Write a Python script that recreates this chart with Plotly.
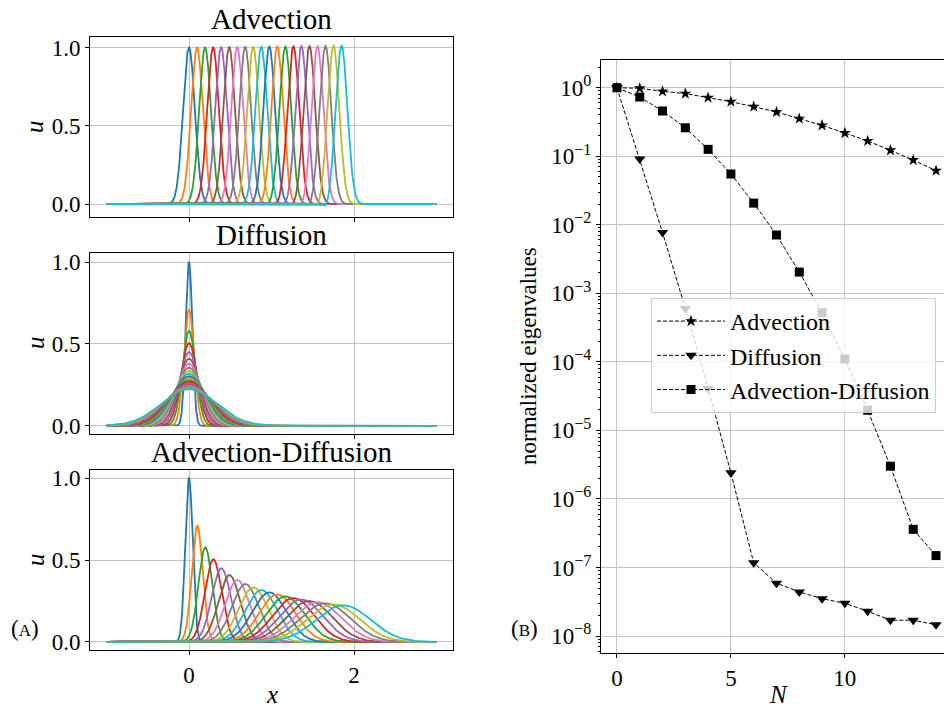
import numpy as np
import plotly.graph_objects as go

# ---------------- data: left panels ----------------
x_min, x_max = -1.0, 3.0
tab10 = ['#1f77b4', '#ff7f0e', '#2ca02c', '#d62728', '#9467bd',
         '#8c564b', '#e377c2', '#7f7f7f', '#bcbd22', '#17becf']

adv_centers = [0.000, 0.097, 0.195, 0.292, 0.389, 0.487, 0.584, 0.681, 0.778, 0.876,
               0.973, 1.070, 1.168, 1.265, 1.362, 1.460, 1.557, 1.654, 1.751, 1.849]
adv_peaks = [1.000, 1.000, 1.001, 1.001, 1.002, 1.003, 1.003, 1.004, 1.005, 1.005,
             1.006, 1.007, 1.007, 1.008, 1.009, 1.009, 1.010, 1.011, 1.011, 1.012]
adv_widths = [0.071, 0.071, 0.071, 0.071, 0.071, 0.071, 0.071, 0.071, 0.071, 0.071,
              0.071, 0.071, 0.071, 0.071, 0.071, 0.071, 0.071, 0.071, 0.071, 0.071]
adv_dips = [0.0, 0.0, 0.0, 0.0, 0.0, 0.0, 0.0, 0.0, 0.0, 0.001,
            0.003, 0.005, 0.007, 0.009, 0.011, 0.014, 0.017, 0.021, 0.026, 0.034]

dif_centers = [0.0] * 20
dif_peaks = [1.000, 0.710, 0.580, 0.505, 0.450, 0.410, 0.380, 0.355, 0.335, 0.318,
             0.303, 0.290, 0.278, 0.268, 0.259, 0.250, 0.243, 0.236, 0.229, 0.224]
dif_widths = [0.040, 0.062, 0.081, 0.098, 0.114, 0.130, 0.146, 0.161, 0.176, 0.191,
              0.206, 0.220, 0.234, 0.248, 0.262, 0.276, 0.290, 0.304, 0.318, 0.332]

ad_centers = [0.000, 0.100, 0.198, 0.295, 0.392, 0.489, 0.586, 0.683, 0.780, 0.877,
              0.974, 1.071, 1.168, 1.265, 1.362, 1.459, 1.556, 1.653, 1.750, 1.870]
ad_peaks = [1.000, 0.710, 0.577, 0.504, 0.449, 0.408, 0.378, 0.354, 0.333, 0.317,
            0.303, 0.290, 0.278, 0.268, 0.259, 0.250, 0.243, 0.236, 0.229, 0.224]
ad_widths = [0.045, 0.066, 0.084, 0.101, 0.117, 0.133, 0.148, 0.163, 0.178, 0.193,
             0.207, 0.221, 0.235, 0.249, 0.263, 0.277, 0.290, 0.303, 0.316, 0.329]

# ---------------- data: right panel ----------------
N_vals = list(range(15))
eig_advection = [1.0, 0.98, 0.885, 0.82, 0.715, 0.625, 0.528, 0.442, 0.353, 0.282,
                 0.218, 0.167, 0.122, 0.088, 0.0615]
eig_diffusion = [1.0, 0.091, 0.0077, 6.0e-4, 4.1e-5, 2.4e-6, 1.17e-7, 5.9e-8, 4.4e-8,
                 3.5e-8, 3.0e-8, 2.3e-8, 1.7e-8, 1.7e-8, 1.46e-8]
eig_advdiff = [1.0, 0.73, 0.457, 0.26, 0.126, 0.055, 0.0207, 0.0071, 0.00204, 5.2e-4,
               1.1e-4, 1.97e-5, 3.0e-6, 3.6e-7, 1.49e-7]

log_tick_vals = [1e0, 1e-1, 1e-2, 1e-3, 1e-4, 1e-5, 1e-6, 1e-7, 1e-8]
log_tick_text = ['10<sup>0</sup>', '10<sup>−1</sup>', '10<sup>−2</sup>', '10<sup>−3</sup>',
                 '10<sup>−4</sup>', '10<sup>−5</sup>', '10<sup>−6</sup>', '10<sup>−7</sup>',
                 '10<sup>−8</sup>']
left_y_ticks = [0.0, 0.5, 1.0]
left_y_text = ['0.0', '0.5', '1.0']
left_x_ticks = [0, 2]
right_x_ticks = [0, 5, 10]

# ---------------- build figure ----------------
FONT = 'Liberation Serif'
GRID = '#c4c4c4'
xs = np.linspace(x_min, x_max, 1201)

fig = go.Figure()


def pulse(c, a, w):
    return a * np.exp(-0.5 * ((xs - c) / w) ** 2)


for i in range(20):
    y = pulse(adv_centers[i], adv_peaks[i], adv_widths[i])
    y = y - adv_dips[i] * np.exp(-0.5 * ((xs - adv_centers[i] + 0.18) / 0.03) ** 2)
    fig.add_trace(go.Scatter(x=xs, y=y, mode='lines', line=dict(color=tab10[i % 10], width=1.8),
                             xaxis='x', yaxis='y', showlegend=False, hoverinfo='skip'))
for i in range(20):
    y = pulse(dif_centers[i], dif_peaks[i], dif_widths[i])
    fig.add_trace(go.Scatter(x=xs, y=y, mode='lines', line=dict(color=tab10[i % 10], width=1.8),
                             xaxis='x2', yaxis='y2', showlegend=False, hoverinfo='skip'))
for i in range(20):
    y = pulse(ad_centers[i], ad_peaks[i], ad_widths[i])
    fig.add_trace(go.Scatter(x=xs, y=y, mode='lines', line=dict(color=tab10[i % 10], width=1.8),
                             xaxis='x3', yaxis='y3', showlegend=False, hoverinfo='skip'))

series = [('Advection', eig_advection, 'star', 9),
          ('Diffusion', eig_diffusion, 'triangle-down', 10),
          ('Advection-Diffusion', eig_advdiff, 'square', 9)]
for name, vals, sym, sz in series:
    fig.add_trace(go.Scatter(x=N_vals, y=vals, name=name, mode='lines+markers',
                             line=dict(color='black', width=1, dash='4px,2px'),
                             marker=dict(symbol=sym, size=sz, color='black'),
                             xaxis='x4', yaxis='y4'))

W, H = 944, 707


def px_x(p):
    return p / W


def px_y(p):
    return (H - p) / H


tickfont = dict(family=FONT, size=23, color='black')
common_axis = dict(showline=True, linecolor='black', linewidth=1, ticks='outside', ticklen=4,
                   tickwidth=1, tickcolor='black', showgrid=True, gridcolor=GRID, gridwidth=1,
                   zeroline=False, tickfont=tickfont, automargin=False)

left_dom = [px_x(90), px_x(453)]
panels = [(37, 217, [-0.082, 1.067]), (253, 434, [-0.05, 1.055]), (470, 650, [-0.049, 1.049])]
layout = {}
for k, (top, bot, yr) in enumerate(panels):
    sx = '' if k == 0 else str(k + 1)
    layout['xaxis' + sx] = dict(common_axis, domain=left_dom, anchor='y' + sx, range=[-1.2, 3.2],
                                tickmode='array', tickvals=left_x_ticks, mirror=True,
                                showticklabels=(k == 2))
    layout['yaxis' + sx] = dict(common_axis, domain=[px_y(bot), px_y(top)], anchor='x' + sx,
                                range=yr, tickmode='array', tickvals=left_y_ticks,
                                ticktext=left_y_text, mirror=True)

minor_vals = [m * 10.0 ** e for e in range(-9, 1) for m in range(2, 10)]
layout['xaxis4'] = dict(common_axis, domain=[px_x(601), 1.0], anchor='y4', range=[-0.7, 14.35],
                        tickmode='array', tickvals=right_x_ticks, mirror=True)
layout['yaxis4'] = dict(common_axis, domain=[px_y(653), px_y(60)], anchor='x4', type='log',
                        range=[-8.248, 0.404], tickmode='array', tickvals=log_tick_vals,
                        ticktext=log_tick_text, mirror=False,
                        minor=dict(tickmode='array', tickvals=minor_vals, ticks='outside',
                                   ticklen=2.5, tickcolor='black', showgrid=False))

annots = []
titles = [('Advection', 37), ('Diffusion', 253), ('Advection-Diffusion', 470)]
for t, top in titles:
    annots.append(dict(text=t, x=px_x(271.5), y=px_y(top), xref='paper', yref='paper',
                       xanchor='center', yanchor='bottom', yshift=0, showarrow=False,
                       font=dict(family=FONT, size=29, color='black')))
for cy in [127, 343, 560]:
    annots.append(dict(text='<i>u</i>', x=px_x(35), y=px_y(cy), xref='paper', yref='paper',
                       xanchor='center', yanchor='middle', showarrow=False, textangle=-90,
                       font=dict(family=FONT, size=25, color='black')))
annots.append(dict(text='<i>x</i>', x=px_x(271.5), y=0, xref='paper', yref='paper',
                   xanchor='center', yanchor='bottom', yshift=-3, showarrow=False,
                   font=dict(family=FONT, size=25, color='black')))
annots.append(dict(text='<i>N</i>', x=px_x(778), y=0, xref='paper', yref='paper',
                   xanchor='center', yanchor='bottom', yshift=-3, showarrow=False,
                   font=dict(family=FONT, size=25, color='black')))
annots.append(dict(text='normalized eigenvalues', x=px_x(528), y=px_y(356), xref='paper',
                   yref='paper', xanchor='center', yanchor='middle', showarrow=False,
                   textangle=-90, font=dict(family=FONT, size=23, color='black')))
annots.append(dict(text="(<span style='font-size:17px'>A</span>)", x=px_x(25), y=px_y(628),
                   xref='paper', yref='paper', xanchor='center', yanchor='middle',
                   showarrow=False, font=dict(family=FONT, size=23, color='black')))
annots.append(dict(text="(<span style='font-size:17px'>B</span>)", x=px_x(524), y=px_y(628),
                   xref='paper', yref='paper', xanchor='center', yanchor='middle',
                   showarrow=False, font=dict(family=FONT, size=23, color='black')))

fig.update_layout(
    width=W, height=H, margin=dict(l=0, r=0, t=0, b=0),
    paper_bgcolor='white', plot_bgcolor='white',
    font=dict(family=FONT, size=23, color='black'),
    annotations=annots,
    legend=dict(x=px_x(651), y=px_y(298), xanchor='left', yanchor='top',
                bgcolor='rgba(255,255,255,0.8)', bordercolor='#cccccc', borderwidth=1,
                font=dict(family=FONT, size=24, color='black'), itemwidth=68,
                tracegroupgap=0),
    **layout,
)

fig.write_html('out.html')
